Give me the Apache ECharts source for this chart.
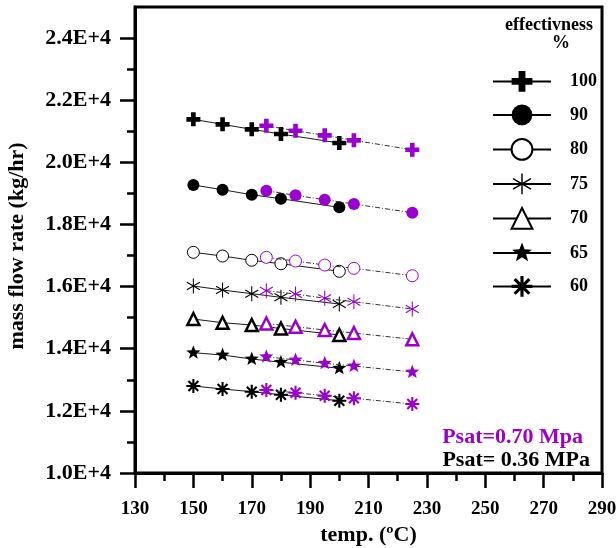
<!DOCTYPE html>
<html>
<head>
<meta charset="utf-8">
<script src="https://cdn.jsdelivr.net/npm/echarts@6/dist/echarts.min.js"></script>
<style>
  html, body { margin: 0; padding: 0; background: #fff; }
  #chart { width: 616px; height: 548px; }
</style>
</head>
<body>
<div id="chart"></div>
<script>
// Temperatures (°C) for the two saturation pressures
const tempsLow = [150, 160, 170, 180, 200];   // Psat = 0.36 MPa
const tempsHigh = [175, 185, 195, 205, 225];  // Psat = 0.70 MPa

// Effectiveness levels (%)
const effLabels = ['100', '90', '80', '75', '70', '65', '60'];

// Mass flow rate (kg/hr), Psat = 0.36 MPa
const low100 = [21384, 21223, 21062, 20911, 20621];
const low90  = [19269, 19118, 18957, 18828, 18552];
const low80  = [17103, 16984, 16846, 16736, 16492];
const low75  = [16019, 15890, 15771, 15655, 15439];
const low70  = [14956, 14837, 14763, 14651, 14442];
const low65  = [13872, 13798, 13669, 13566, 13370];
const low60  = [12800, 12704, 12617, 12517, 12327];

// Mass flow rate (kg/hr), Psat = 0.70 MPa
const high100 = [21178, 21017, 20869, 20708, 20405];
const high90  = [19086, 18938, 18796, 18658, 18378];
const high80  = [16942, 16823, 16694, 16588, 16350];
const high75  = [15867, 15761, 15623, 15513, 15278];
const high70  = [14812, 14709, 14602, 14506, 14303];
const high65  = [13743, 13637, 13531, 13444, 13251];
const high60  = [12671, 12584, 12488, 12404, 12221];

// Axis ticks
const xTicks = [130, 150, 170, 190, 210, 230, 250, 270, 290];
const yMajorTicks = [10000, 12000, 14000, 16000, 18000, 20000, 22000, 24000];
const yMinorTicks = [11000, 13000, 15000, 17000, 19000, 21000, 23000];

const lowSets = [low100, low90, low80, low75, low70, low65, low60];
const highSets = [high100, high90, high80, high75, high70, high65, high60];

const PURPLE = '#9a00d0';
const SERIF = '"Liberation Serif", "Times New Roman", serif';

// ---- marker shapes ----
const squareBox = 'M-1,-1L-1,-1ZM1,1L1,1Z';
function poly(pts) {
  return 'M' + pts.map(p => p[0].toFixed(4) + ',' + p[1].toFixed(4)).join('L') + 'Z';
}
function armsPath(angles, hw) {
  let s = '';
  angles.forEach(a => {
    const r = a * Math.PI / 180;
    const dx = Math.cos(r), dy = Math.sin(r);
    const nx = -dy, ny = dx;
    s += poly([
      [dx + nx * hw, dy + ny * hw],
      [-dx + nx * hw, -dy + ny * hw],
      [-dx - nx * hw, -dy - ny * hw],
      [dx - nx * hw, dy - ny * hw]
    ]);
  });
  return 'path://' + s + squareBox;
}
function starPath(inner) {
  const pts = [];
  for (let i = 0; i < 10; i++) {
    const r = i % 2 ? inner : 1;
    const a = -Math.PI / 2 + i * Math.PI / 5;
    pts.push([r * Math.cos(a), r * Math.sin(a)]);
  }
  return 'path://' + poly(pts) + squareBox;
}
const plusPath = 'path://M-0.33,-1L0.33,-1L0.33,-0.33L1,-0.33L1,0.33L0.33,0.33L0.33,1L-0.33,1L-0.33,0.33L-1,0.33L-1,-0.33L-0.33,-0.33Z';

const markers = [
  { symbol: plusPath, size: 14 },
  { symbol: 'circle', size: 12 },
  { symbol: 'circle', size: 12, open: true, bw: 1 },
  { symbol: armsPath([90, 30, 150], 0.07), size: 15 },
  { symbol: 'triangle', size: 12, open: true, bw: 2.5 },
  { symbol: starPath(0.42), size: 15 },
  { symbol: armsPath([0, 45, 90, 135], 0.15), size: 14 }
];

function itemStyleFor(m, color) {
  return m.open
    ? { color: '#fff', borderColor: color, borderWidth: m.bw }
    : { color: color, borderWidth: 0 };
}

const series = [];
effLabels.forEach((lab, i) => {
  const m = markers[i];
  series.push({
    name: lab,
    type: 'line',
    data: tempsLow.map((t, j) => [t, lowSets[i][j]]),
    symbol: m.symbol,
    symbolSize: m.size,
    itemStyle: itemStyleFor(m, '#000'),
    lineStyle: { color: '#1a1a1a', width: 1, type: 'solid' },
    emphasis: { disabled: true },
    z: 3
  });
});
effLabels.forEach((lab, i) => {
  const m = markers[i];
  series.push({
    name: lab + ' (0.70 MPa)',
    type: 'line',
    data: tempsHigh.map((t, j) => [t, highSets[i][j]]),
    symbol: m.symbol,
    symbolSize: m.size,
    itemStyle: itemStyleFor(m, PURPLE),
    lineStyle: { color: '#333', width: 1, type: [5, 2, 1, 2] },
    emphasis: { disabled: true },
    z: 4
  });
});

const chart = echarts.init(document.getElementById('chart'), null, { renderer: 'canvas' });

const axisText = { color: '#000', fontWeight: 'bold', fontFamily: SERIF };

chart.setOption({
  animation: false,
  backgroundColor: '#fff',
  grid: {
    left: 135, right: 14, top: 7, bottom: 75,
    containLabel: false,
    outerBoundsMode: 'none',
    show: true, borderColor: '#000', borderWidth: 3, backgroundColor: 'transparent'
  },
  xAxis: {
    type: 'value',
    min: xTicks[0], max: xTicks[xTicks.length - 1], interval: 20,
    axisLine: { show: true, onZero: false, lineStyle: { color: '#000', width: 3 } },
    axisTick: { show: true, length: 15, lineStyle: { color: '#000', width: 2.5 } },
    minorTick: { show: true, splitNumber: 2, length: 8, lineStyle: { color: '#000', width: 2.5 } },
    axisLabel: Object.assign({ margin: 27, fontSize: 19 }, axisText),
    splitLine: { show: false },
    name: 'temp. (ºC)',
    nameLocation: 'middle',
    nameGap: 47,
    nameTextStyle: Object.assign({ fontSize: 22 }, axisText)
  },
  yAxis: [
    {
      type: 'value',
      min: 10000, max: 25000, interval: 2000,
      axisLine: { show: true, onZero: false, lineStyle: { color: '#000', width: 3 } },
      axisTick: { show: true, length: 15, customValues: yMajorTicks, lineStyle: { color: '#000', width: 2.5 } },
      axisLabel: Object.assign({
        margin: 24, fontSize: 22, customValues: yMajorTicks,
        formatter: v => (v % 2000 === 0 && v < 25000) ? (v / 10000).toFixed(1) + 'E+4' : ''
      }, axisText),
      splitLine: { show: false }
    },
    {
      type: 'value',
      min: 10000, max: 25000, interval: 1000,
      position: 'left',
      axisLine: { show: false },
      axisTick: { show: true, length: 8, customValues: yMinorTicks, lineStyle: { color: '#000', width: 2.5 } },
      axisLabel: { show: false },
      splitLine: { show: false }
    }
  ],
  legend: {
    data: effLabels,
    orient: 'vertical',
    left: 487, top: 66,
    itemWidth: 58, itemHeight: 26, itemGap: 12.7,
    selectedMode: false,
    lineStyle: { width: 2, color: '#000' },
    textStyle: Object.assign({ fontSize: 18, padding: [0, 0, 0, 14] }, axisText)
  },
  graphic: [
    {
      type: 'text', x: 17, y: 246, rotation: Math.PI / 2,
      style: { text: 'mass flow rate (kg/hr)', textAlign: 'center', textVerticalAlign: 'middle',
               font: 'bold 22px ' + SERIF, fill: '#000' }
    },
    {
      type: 'text', x: 549, y: 25,
      style: { text: 'effectivness', textAlign: 'center', textVerticalAlign: 'middle',
               font: 'bold 18px ' + SERIF, fill: '#000' }
    },
    {
      type: 'text', x: 561, y: 43,
      style: { text: '%', textAlign: 'center', textVerticalAlign: 'middle',
               font: 'bold 18px ' + SERIF, fill: '#000' }
    },
    {
      type: 'text', x: 583, y: 437,
      style: { text: 'Psat=0.70 Mpa', textAlign: 'right', textVerticalAlign: 'middle',
               font: 'bold 22px ' + SERIF, fill: PURPLE }
    },
    {
      type: 'text', x: 590, y: 460,
      style: { text: 'Psat= 0.36 MPa', textAlign: 'right', textVerticalAlign: 'middle',
               font: 'bold 22px ' + SERIF, fill: '#000' }
    }
  ],
  series: series
});
</script>
</body>
</html>
